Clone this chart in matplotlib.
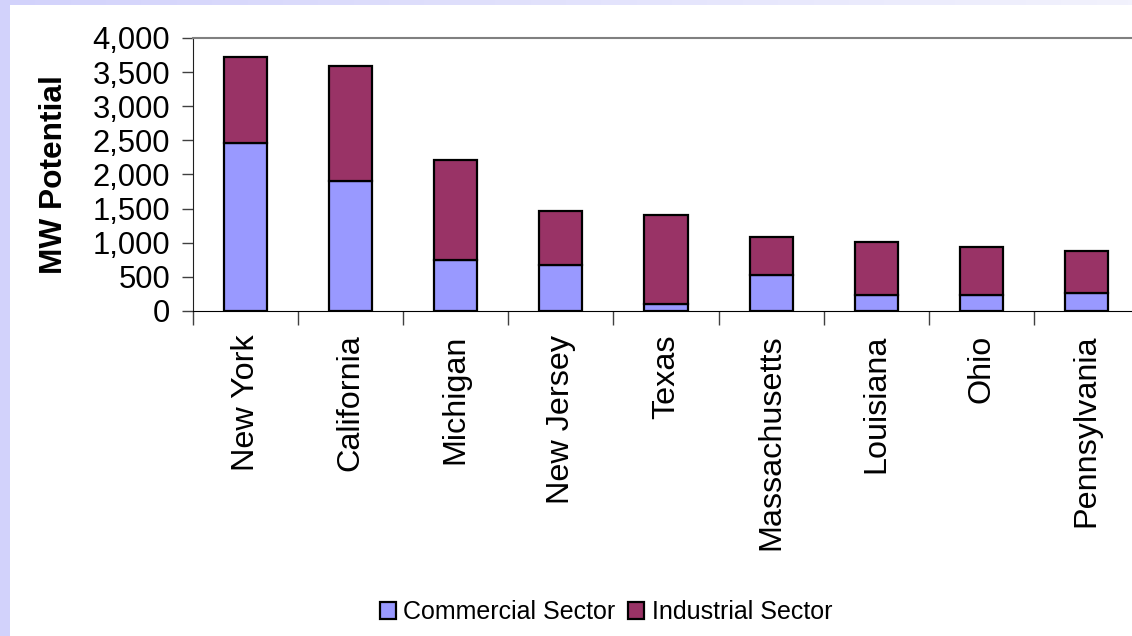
import matplotlib
matplotlib.use("Agg")
import matplotlib.pyplot as plt
import numpy as np
from matplotlib.ticker import FuncFormatter, FixedLocator
from matplotlib.colors import LinearSegmentedColormap

states = ["New York", "California", "Michigan", "New Jersey", "Texas",
          "Massachusetts", "Louisiana", "Ohio", "Pennsylvania"]
commercial = [2460, 1900, 740, 670, 100, 530, 240, 240, 270]
industrial = [1260, 1690, 1470, 800, 1300, 550, 770, 700, 605]
series_names = ["Commercial Sector", "Industrial Sector"]
colors = ["#9999FF", "#993366"]
yticks = [0, 500, 1000, 1500, 2000, 2500, 3000, 3500, 4000]

plt.rcParams['font.family'] = ['Liberation Sans', 'DejaVu Sans']

fig = plt.figure(figsize=(11.32, 6.36), dpi=100)
fig.patch.set_facecolor("white")

# lavender frame (left band and top gradient band)
bg = fig.add_axes([0, 0, 1, 1], zorder=-10)
bg.set_xlim(0, 1132); bg.set_ylim(636, 0); bg.axis("off")
bg.add_patch(plt.Rectangle((0, 0), 10, 636, color="#D2D2FB", lw=0))
grad = np.linspace(0, 1, 256).reshape(1, -1)
cm = LinearSegmentedColormap.from_list("g", ["#D2D2FB", "#F2F2FD"])
bg.imshow(grad, extent=(0, 1132, 5, 0), aspect="auto", cmap=cm)

ax = fig.add_axes([193 / 1132, 1 - 311 / 636, (1139 - 193) / 1132, (311 - 38) / 636])
x = np.arange(len(states))
w = 0.41
ax.bar(x, commercial, width=w, color=colors[0], edgecolor="black", linewidth=1.6,
       label=series_names[0])
ax.bar(x, industrial, width=w, bottom=commercial, color=colors[1], edgecolor="black",
       linewidth=1.6, label=series_names[1])

ax.set_xlim(-0.5, len(states) - 0.5)
ax.set_ylim(0, 4000)
ax.set_yticks(yticks)
ax.yaxis.set_major_formatter(FuncFormatter(lambda v, p: f"{int(v):,}"))
ax.tick_params(axis="y", length=8, width=1, pad=8.5, labelsize=22.3, color="#404040")

ax.set_xticks(x)
ax.set_xticklabels(states, rotation=90, fontsize=23.3)
ax.tick_params(axis="x", which="major", length=0, pad=17)
ax.xaxis.set_minor_locator(FixedLocator(np.arange(-0.5, len(states), 1.0)))
ax.tick_params(axis="x", which="minor", length=10, width=1, color="#404040")

ax.spines["right"].set_visible(False)
ax.spines["top"].set_color("#808080")
ax.spines["top"].set_linewidth(1.5)
ax.spines["left"].set_color("#202020")
ax.spines["bottom"].set_color("black")

ax.set_ylabel("MW Potential", fontsize=22.8, fontweight="bold")
ax.yaxis.set_label_coords(-(193 - 69) / 946, 0.5)

fig.legend(loc="center", bbox_to_anchor=(606 / 1132, 1 - 612 / 636), ncol=2,
           frameon=False, fontsize=18, handlelength=0.65, handleheight=0.65,
           handletextpad=0.3, columnspacing=0.5)

fig.savefig("out.png", dpi=100, facecolor="white")
